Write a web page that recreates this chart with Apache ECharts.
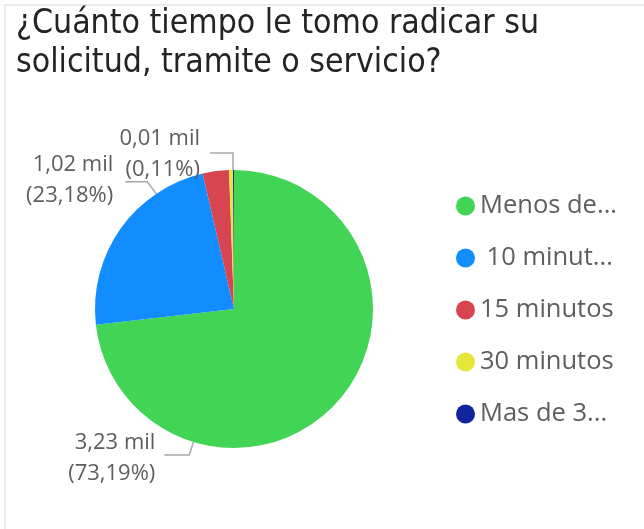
<!DOCTYPE html>
<html><head><meta charset="utf-8">
<script src="https://cdn.jsdelivr.net/npm/echarts@6/dist/echarts.min.js"></script>
<style>html,body{margin:0;padding:0;background:#fff}#c{width:644px;height:529px}</style>
</head><body><div id="c"></div>
<script>
var categories = ["Menos de 10 minutos", " 10 minutos", "15 minutos", "30 minutos", "Mas de 30 minutos"];
var legendLabels = ["Menos de...", " 10 minut...", "15 minutos", "30 minutos", "Mas de 3..."];
var values = [3230, 1023, 135, 20, 5];
var percents = ["73,19%", "23,18%", "3,06%", "0,45%", "0,11%"];
var showLabel = [true, true, false, false, true];
var colors = ["#42D454", "#118DFF", "#D64550", "#E6E63A", "#12239E"];

var CX = 234, CY = 309, R = 139;
// label placement (Power BI style): anchor angle (deg clockwise from top), elbow offsets
var labelPlace = {
  0: {angle: 197, d1: [-4, 13], len2: 25, gap: 9, dy: 3},
  1: {angle: 326, d1: [-9, -12], len2: 22, gap: 12, dy: -2},
  4: {angle: 359.6, d1: [0, -17], len2: 23, gap: 10, dy: 1}
};

var chart = echarts.init(document.getElementById('c'));
var data = categories.map(function(n, i){
  return {name: n, value: values[i], itemStyle: {color: colors[i]},
    label: {show: showLabel[i]}, labelLine: {show: showLabel[i]}};
});
function fmtMil(v){ return (v/1000).toFixed(2).replace('.', ',') + ' mil'; }
chart.setOption({
  animation: false,
  graphic: [
    {type: 'rect', shape: {x: 5, y: 5, width: 680, height: 580}, style: {fill: 'none', stroke: '#EAEAEA', lineWidth: 2}},
    {type: 'text', left: 16, top: 5, style: {text: '¿Cuánto tiempo le tomo radicar su\nsolicitud, tramite o servicio?', font: '33.5px "DejaVu Sans Condensed"', fill: '#252423', lineHeight: 39}}
  ],
  legend: {
    orient: 'vertical', left: 456, top: 193, itemGap: 26, padding: 0,
    icon: 'circle', itemWidth: 19, itemHeight: 19,
    textStyle: {fontSize: 25.5, lineHeight: 26, color: '#605E5C', fontFamily: 'Open Sans'},
    formatter: function(name){ return legendLabels[categories.indexOf(name)]; }
  },
  series: [{
    type: 'pie', center: [CX, CY], radius: [0, R], startAngle: 90, clockwise: true,
    data: data,
    label: {
      color: '#605E5C', fontSize: 22, fontFamily: 'Open Sans', lineHeight: 31, overflow: 'none',
      formatter: function(p){ return fmtMil(p.value) + '\n(' + percents[p.dataIndex] + ')'; }
    },
    labelLine: {lineStyle: {color: '#A8A8A8', width: 1.5}},
    labelLayout: function(params){
      var pl = labelPlace[params.dataIndex];
      if (!pl) return {};
      var a = pl.angle * Math.PI / 180;
      var p0 = [CX + R * Math.sin(a), CY - R * Math.cos(a)];
      var p1 = [p0[0] + pl.d1[0], p0[1] + pl.d1[1]];
      var p2 = [p1[0] - pl.len2, p1[1]];
      return {x: p2[0] - pl.gap, y: p2[1] + pl.dy, align: 'right', verticalAlign: 'middle',
              labelLinePoints: [p0, p1, p2]};
    }
  }]
});
</script></body></html>
